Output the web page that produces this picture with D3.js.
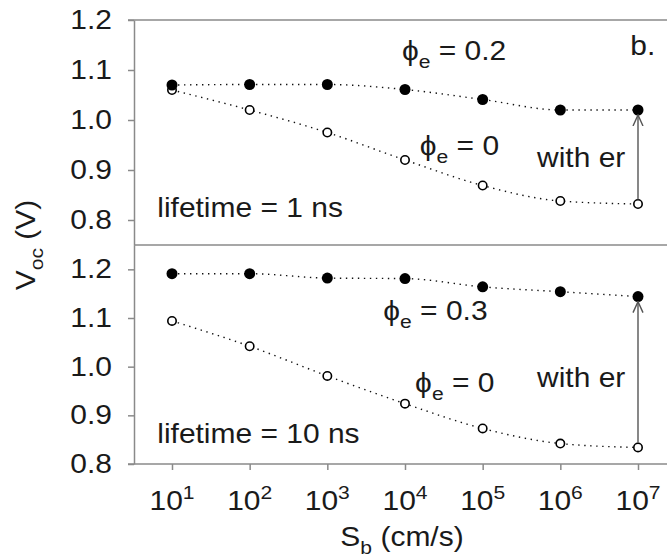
<!DOCTYPE html>
<html>
<head>
<meta charset="utf-8">
<script src="https://cdn.jsdelivr.net/npm/d3@7"></script>
<style>
  body { margin: 0; background: #fff; }
  text { font-family: "Liberation Sans", Arial, sans-serif; fill: #1a1a1a; }
</style>
</head>
<body>
<div id="plot"></div>
<script>

// S_b values (cm/s)
var sb = [1e1, 1e2, 1e3, 1e4, 1e5, 1e6, 1e7];
var xTickExp = [1, 2, 3, 4, 5, 6, 7];

// lifetime = 1 ns
var top_withEr = [1.070, 1.071, 1.071, 1.061, 1.041, 1.020, 1.020];   // phi_e = 0.2
var top_noEr   = [1.060, 1.020, 0.975, 0.920, 0.869, 0.838, 0.832];   // phi_e = 0

// lifetime = 10 ns
var bot_withEr = [1.191, 1.191, 1.182, 1.181, 1.164, 1.154, 1.144];   // phi_e = 0.3
var bot_noEr   = [1.094, 1.042, 0.981, 0.924, 0.873, 0.842, 0.834];   // phi_e = 0

var yTicks = [0.8, 0.9, 1.0, 1.1, 1.2];

var W = 667, H = 560;
var SX = 1.11;   // the source lettering is a little wider than Arial
var svg = d3.select('#plot').append('svg').attr('width', W).attr('height', H);

// turn x/y into a transform so the glyphs can be stretched sideways
function stretch(sel, extra) {
    sel.each(function() {
        var t = d3.select(this);
        var tx = +t.attr('x') || 0, ty = +t.attr('y') || 0;
        t.attr('x', null).attr('y', null)
         .attr('transform', 'translate(' + tx + ',' + ty + ')' + (extra || '') + ' scale(' + SX + ',1)');
    });
}

var defs = svg.append('defs');
defs.append('marker')
    .attr('id', 'arr')
    .attr('viewBox', '0 0 12 12')
    .attr('refX', 11).attr('refY', 6)
    .attr('markerWidth', 12).attr('markerHeight', 12)
    .attr('markerUnits', 'userSpaceOnUse')
    .attr('orient', 'auto')
    .append('path')
    .attr('d', 'M0,1 L11,6 L0,11')
    .attr('fill', 'none').attr('stroke', '#555').attr('stroke-width', 1.4);

var plotLeft = 134, plotRight = 667;
var x = d3.scaleLog().domain([1e1, 1e7]).range([172, 638]);

var yTop = d3.scaleLinear().domain([0.75, 1.2]).range([245, 20]);
var yBot = d3.scaleLinear().domain([0.8, 1.25]).range([464, 245]);

var axisColor = '#8a8a8a';

// frame lines
svg.append('line').attr('x1', plotLeft - 6).attr('x2', plotRight)
    .attr('y1', yTop(1.2)).attr('y2', yTop(1.2))
    .attr('stroke', axisColor).attr('stroke-width', 1.5);
svg.append('line').attr('x1', plotLeft).attr('x2', plotRight)
    .attr('y1', yTop(0.75)).attr('y2', yTop(0.75))
    .attr('stroke', axisColor).attr('stroke-width', 1.5);

function leftAxis(y) {
    var g = svg.append('g')
        .attr('transform', 'translate(' + plotLeft + ',0)')
        .call(d3.axisLeft(y).tickValues(yTicks).tickFormat(d3.format('.1f'))
              .tickSize(6).tickPadding(16).tickSizeOuter(0));
    g.selectAll('.domain, .tick line').attr('stroke', axisColor).attr('stroke-width', 1.5);
    var tt = g.selectAll('.tick text').attr('font-size', 27).attr('fill', '#1a1a1a')
        .attr('font-family', '"Liberation Sans", Arial, sans-serif');
    stretch(tt);
    return g;
}
leftAxis(yTop);
leftAxis(yBot);

// bottom axis
var xg = svg.append('g')
    .attr('transform', 'translate(0,' + yBot(0.8) + ')')
    .call(d3.axisBottom(x).tickValues(sb).tickSize(6).tickFormat(''));
xg.select('.domain').remove();
xg.selectAll('.tick line').attr('stroke', axisColor).attr('stroke-width', 1.5);
svg.append('line').attr('x1', plotLeft - 6).attr('x2', plotRight)
    .attr('y1', yBot(0.8)).attr('y2', yBot(0.8))
    .attr('stroke', axisColor).attr('stroke-width', 1.5);

var xl = svg.append('g').selectAll('text').data(xTickExp).enter().append('text')
    .attr('x', function(d) { return x(Math.pow(10, d)); })
    .attr('y', 510)
    .attr('text-anchor', 'middle')
    .attr('font-size', 27);
xl.append('tspan').text('10');
xl.append('tspan').attr('dy', -11).attr('font-size', 19).text(function(d) { return d; });
stretch(xl);

// axis titles
var xt = svg.append('text').attr('x', 402).attr('y', 546).attr('text-anchor', 'middle').attr('font-size', 27);
xt.append('tspan').text('S');
xt.append('tspan').attr('dy', 8).attr('font-size', 19).text('b');
xt.append('tspan').attr('dy', -8).text(' (cm/s)');
stretch(xt);

var yt = svg.append('text').attr('x', 35).attr('y', 245)
    .attr('text-anchor', 'middle').attr('font-size', 27);
yt.append('tspan').text('V');
yt.append('tspan').attr('dy', 8).attr('font-size', 19).text('oc');
yt.append('tspan').attr('dy', -8).text(' (V)');
stretch(yt, ' rotate(-90)');

// series
function series(y, vals, filled) {
    var pts = sb.map(function(s, i) { return [s, vals[i]]; });
    var line = d3.line()
        .x(function(d) { return x(d[0]); })
        .y(function(d) { return y(d[1]); })
        .curve(d3.curveMonotoneX);
    svg.append('path').attr('d', line(pts))
        .attr('fill', 'none').attr('stroke', '#111').attr('stroke-width', 1.4)
        .attr('stroke-dasharray', '1.4,4.6');
    svg.append('g').selectAll('circle').data(pts).enter().append('circle')
        .attr('cx', function(d) { return x(d[0]); })
        .attr('cy', function(d) { return y(d[1]); })
        .attr('r', filled ? 5.5 : 4.2)
        .attr('fill', filled ? '#000' : '#fff')
        .attr('stroke', '#000').attr('stroke-width', filled ? 0 : 1.6);
}
series(yTop, top_noEr, false);
series(yTop, top_withEr, true);
series(yBot, bot_noEr, false);
series(yBot, bot_withEr, true);

// "with er" arrows at last S_b
function arrow(y, from, to) {
    var last = sb[sb.length - 1];
    svg.append('line')
        .attr('x1', x(last)).attr('x2', x(last))
        .attr('y1', y(from) - 4.5).attr('y2', y(to) + 5)
        .attr('stroke', '#555').attr('stroke-width', 1.4)
        .attr('marker-end', 'url(#arr)');
}
arrow(yTop, top_noEr[6], top_withEr[6]);
arrow(yBot, bot_noEr[6], bot_withEr[6]);

// labels, positioned in data coordinates [log10 S_b, V]
function phiLabel(y, lx, ly, val) {
    var t = svg.append('text').attr('x', x(Math.pow(10, lx))).attr('y', y(ly)).attr('font-size', 27);
    t.append('tspan').text('\u03d5');
    t.append('tspan').attr('dy', 8).attr('font-size', 19).text('e');
    t.append('tspan').attr('dy', -8).text(' = ' + val);
    stretch(t);
}
function plainLabel(y, lx, ly, s) {
    var t = svg.append('text').attr('x', x(Math.pow(10, lx))).attr('y', y(ly)).attr('font-size', 27).text(s);
    stretch(t);
}

phiLabel(yTop, 3.96, 1.120, '0.2');
phiLabel(yTop, 4.19, 0.930, '0');
plainLabel(yTop, 5.70, 0.906, 'with er');
plainLabel(yTop, 0.81, 0.806, 'lifetime = 1 ns');
plainLabel(yTop, 6.90, 1.130, 'b.');

phiLabel(yBot, 3.72, 1.096, '0.3');
phiLabel(yBot, 4.13, 0.948, '0');
plainLabel(yBot, 5.70, 0.958, 'with er');
plainLabel(yBot, 0.81, 0.843, 'lifetime = 10 ns');

</script>
</body>
</html>
